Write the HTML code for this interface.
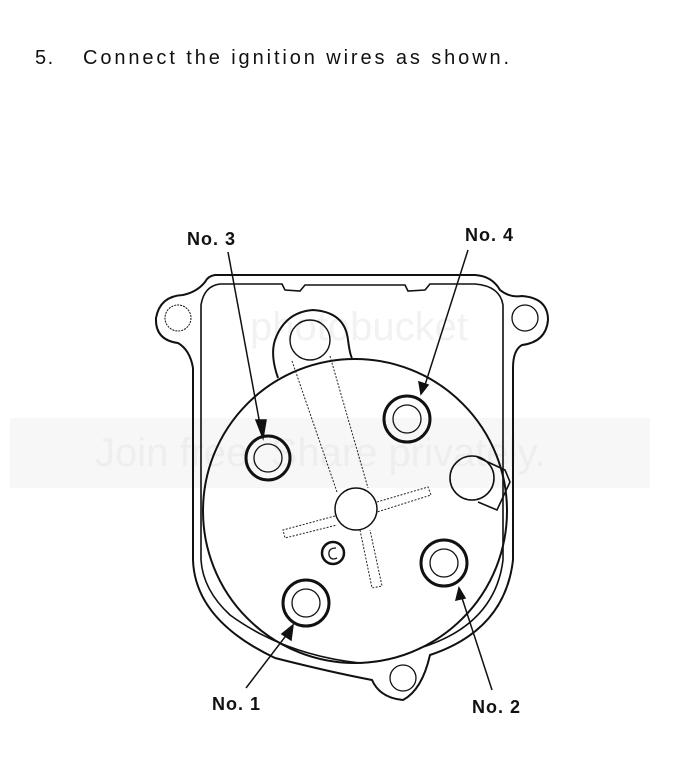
<!DOCTYPE html>
<html><head><style>
html,body{margin:0;padding:0;background:#fff;}
svg{display:block;}
</style></head><body>
<svg width="678" height="765" viewBox="0 0 678 765" xmlns="http://www.w3.org/2000/svg" font-family="Liberation Sans, sans-serif">
<rect width="678" height="765" fill="#fff"/>
<rect x="10" y="418" width="640" height="70" fill="#f7f7f7"/>
<text x="95" y="466" font-size="40" fill="#eeeeee">Join free. Share privately.</text>
<text x="250" y="340" font-size="40" fill="#f2f2f2">photobucket</text>
<text x="35" y="64" font-size="20" letter-spacing="1.5" fill="#111">5.</text>
<text x="83" y="64" font-size="20" letter-spacing="2.9" fill="#111">Connect the ignition wires as shown.</text>
<g fill="none" stroke="#111" stroke-width="2">
<path d="M215,275 L475,275 Q492,276 500,290 Q510,298 522,296 Q548,298 548,320 Q546,342 522,345 Q513,350 513,368 L513,560 Q505,630 430,655 Q422,690 403,700 Q380,698 372,680 Q330,672 275,658 Q195,620 193,560 L193,368 Q190,350 178,343 Q155,340 156,318 Q160,296 183,295 Q197,292 205,282 Q208,276 215,275 Z"/>
<path d="M220,284 L282,284 L285,290 L300,291 L305,285 L405,285 L408,291 L425,290 L430,284 L475,284 Q500,286 503,305 L503,560 Q495,625 420,648 Q400,660 360,663 Q285,655 230,615 Q203,590 201,560 L201,305 Q204,286 220,284 Z" stroke-width="1.6"/>
<circle cx="355" cy="511" r="152"/>
<path d="M278,378 Q270,355 275,340 Q285,312 313,310 Q345,312 348,340 Q350,355 352,358"/>
<circle cx="310" cy="340" r="20" stroke-width="1.4"/>
<g stroke-width="3">
<circle cx="268" cy="458" r="22"/>
<circle cx="407" cy="419" r="23"/>
<circle cx="444" cy="563" r="23"/>
<circle cx="306" cy="603" r="23"/>
</g>
<circle cx="268" cy="458" r="14" stroke-width="1.3"/>
<circle cx="407" cy="419" r="14" stroke-width="1.3"/>
<circle cx="444" cy="563" r="14" stroke-width="1.3"/>
<circle cx="306" cy="603" r="14" stroke-width="1.3"/>
<circle cx="356" cy="509" r="21" stroke-width="1.5"/>
<circle cx="333" cy="553" r="11" stroke-width="2.5"/>
<path d="M336,548 Q328,548 329,555 Q331,561 337,558" stroke-width="1.3"/>
<circle cx="472" cy="478" r="22" stroke-width="1.6"/>
<path d="M477,457 L505,470 L510,482 L497,510 L478,502" stroke-width="1.6"/>
<circle cx="178" cy="318" r="13" stroke-width="1" stroke-dasharray="2,1"/>
<circle cx="525" cy="318" r="13" stroke-width="1.3"/>
<circle cx="403" cy="678" r="13" stroke-width="1.3"/>
</g>
<g fill="none" stroke="#222" stroke-width="1" stroke-dasharray="2,1.5">
<path d="M292,361 L337,492 M330,356 L368,488"/>
<path d="M377,502 L428,487 L431,495 L377,512"/>
<path d="M335,516 L283,530 L285,538 L337,525"/>
<path d="M360,530 L372,588 L382,586 L370,530"/>
</g>
<g stroke="#111" stroke-width="1.5" fill="#111">
<line x1="228" y1="252" x2="261" y2="430"/><polygon points="256,420 266,420 263,438"/>
<line x1="468" y1="250" x2="425" y2="385"/><polygon points="419,382 428,385 421,394"/>
<line x1="246" y1="688" x2="288" y2="633"/><polygon points="282,634 291,640 293,625"/>
<line x1="492" y1="690" x2="462" y2="598"/><polygon points="456,600 465,598 459,588"/>
</g>
<g font-size="18" font-weight="bold" fill="#111" letter-spacing="1">
<text x="187" y="245">No. 3</text>
<text x="465" y="241">No. 4</text>
<text x="212" y="710">No. 1</text>
<text x="472" y="713">No. 2</text>
</g>
</svg>
</body></html>
